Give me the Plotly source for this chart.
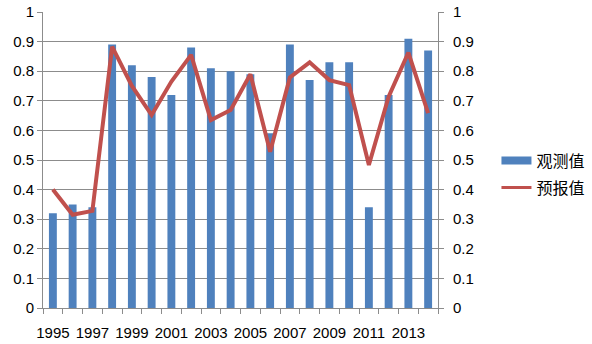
import plotly.graph_objects as go

years = [str(y) for y in range(1995, 2015)]
observed = [0.32, 0.35, 0.34, 0.89, 0.82, 0.78, 0.72, 0.88, 0.81, 0.80,
            0.79, 0.59, 0.89, 0.77, 0.83, 0.83, 0.34, 0.72, 0.91, 0.87]
predicted = [0.40, 0.315, 0.328, 0.883, 0.75, 0.652, 0.765, 0.855, 0.635, 0.669,
             0.79, 0.528, 0.779, 0.83, 0.77, 0.753, 0.483, 0.714, 0.863, 0.658]
tick_labels = [y if int(y) % 2 == 1 else "" for y in years]
y_ticks = [i / 10 for i in range(11)]
y_tick_text = ["0"] + [f"{v:.1f}" for v in y_ticks[1:-1]] + ["1"]

BLUE = "#4F81BD"
RED = "#C0504D"
GRID = "#8C8C8C"
FONT = "Liberation Sans"
CJK = "Noto Sans CJK SC"

fig = go.Figure()
fig.add_trace(go.Bar(x=years, y=observed, marker=dict(color=BLUE, line=dict(width=0)),
                     showlegend=False, name="观测值"))
fig.add_trace(go.Scatter(x=years, y=predicted, mode="lines", line=dict(color=RED, width=4),
                         showlegend=False, name="预报值", yaxis="y2"))
# legend entries
fig.add_trace(go.Scatter(x=[None], y=[None], mode="lines", line=dict(color=BLUE, width=8),
                         name="观测值", legendgroup="a"))
fig.add_trace(go.Scatter(x=[None], y=[None], mode="lines", line=dict(color=RED, width=3),
                         name="预报值", legendgroup="b"))

axis_common = dict(range=[0, 1], tickvals=y_ticks, ticktext=y_tick_text,
                   showline=True, linecolor=GRID, linewidth=1,
                   ticks="outside", ticklen=5, tickcolor=GRID,
                   tickfont=dict(family=FONT, size=15, color="#000"),
                   zeroline=False, automargin=False)

fig.update_layout(
    width=592, height=344,
    margin=dict(l=43, r=154, t=12, b=36, autoexpand=False),
    paper_bgcolor="white", plot_bgcolor="white",
    bargap=0.6,
    xaxis=dict(type="category", tickvals=years, ticktext=tick_labels,
               tickson="boundaries", ticks="outside", ticklen=5, tickcolor=GRID,
               showline=True, linecolor=GRID, linewidth=1, showgrid=False,
               tickangle=0, ticklabelstandoff=11, automargin=False,
               tickfont=dict(family=FONT, size=15, color="#000")),
    yaxis=dict(**axis_common, showgrid=True, gridcolor=GRID, gridwidth=1),
    yaxis2=dict(**axis_common, overlaying="y", side="right", showgrid=False,
                ticklabelstandoff=6),
    legend=dict(x=1.148, y=0.452, xanchor="left", yanchor="middle",
                font=dict(family=CJK, size=16, color="#000"),
                itemwidth=30, tracegroupgap=3, bgcolor="rgba(0,0,0,0)"),
)

fig.write_html("out.html", post_script="document.body.style.margin='0';",
               config={"displayModeBar": False})
